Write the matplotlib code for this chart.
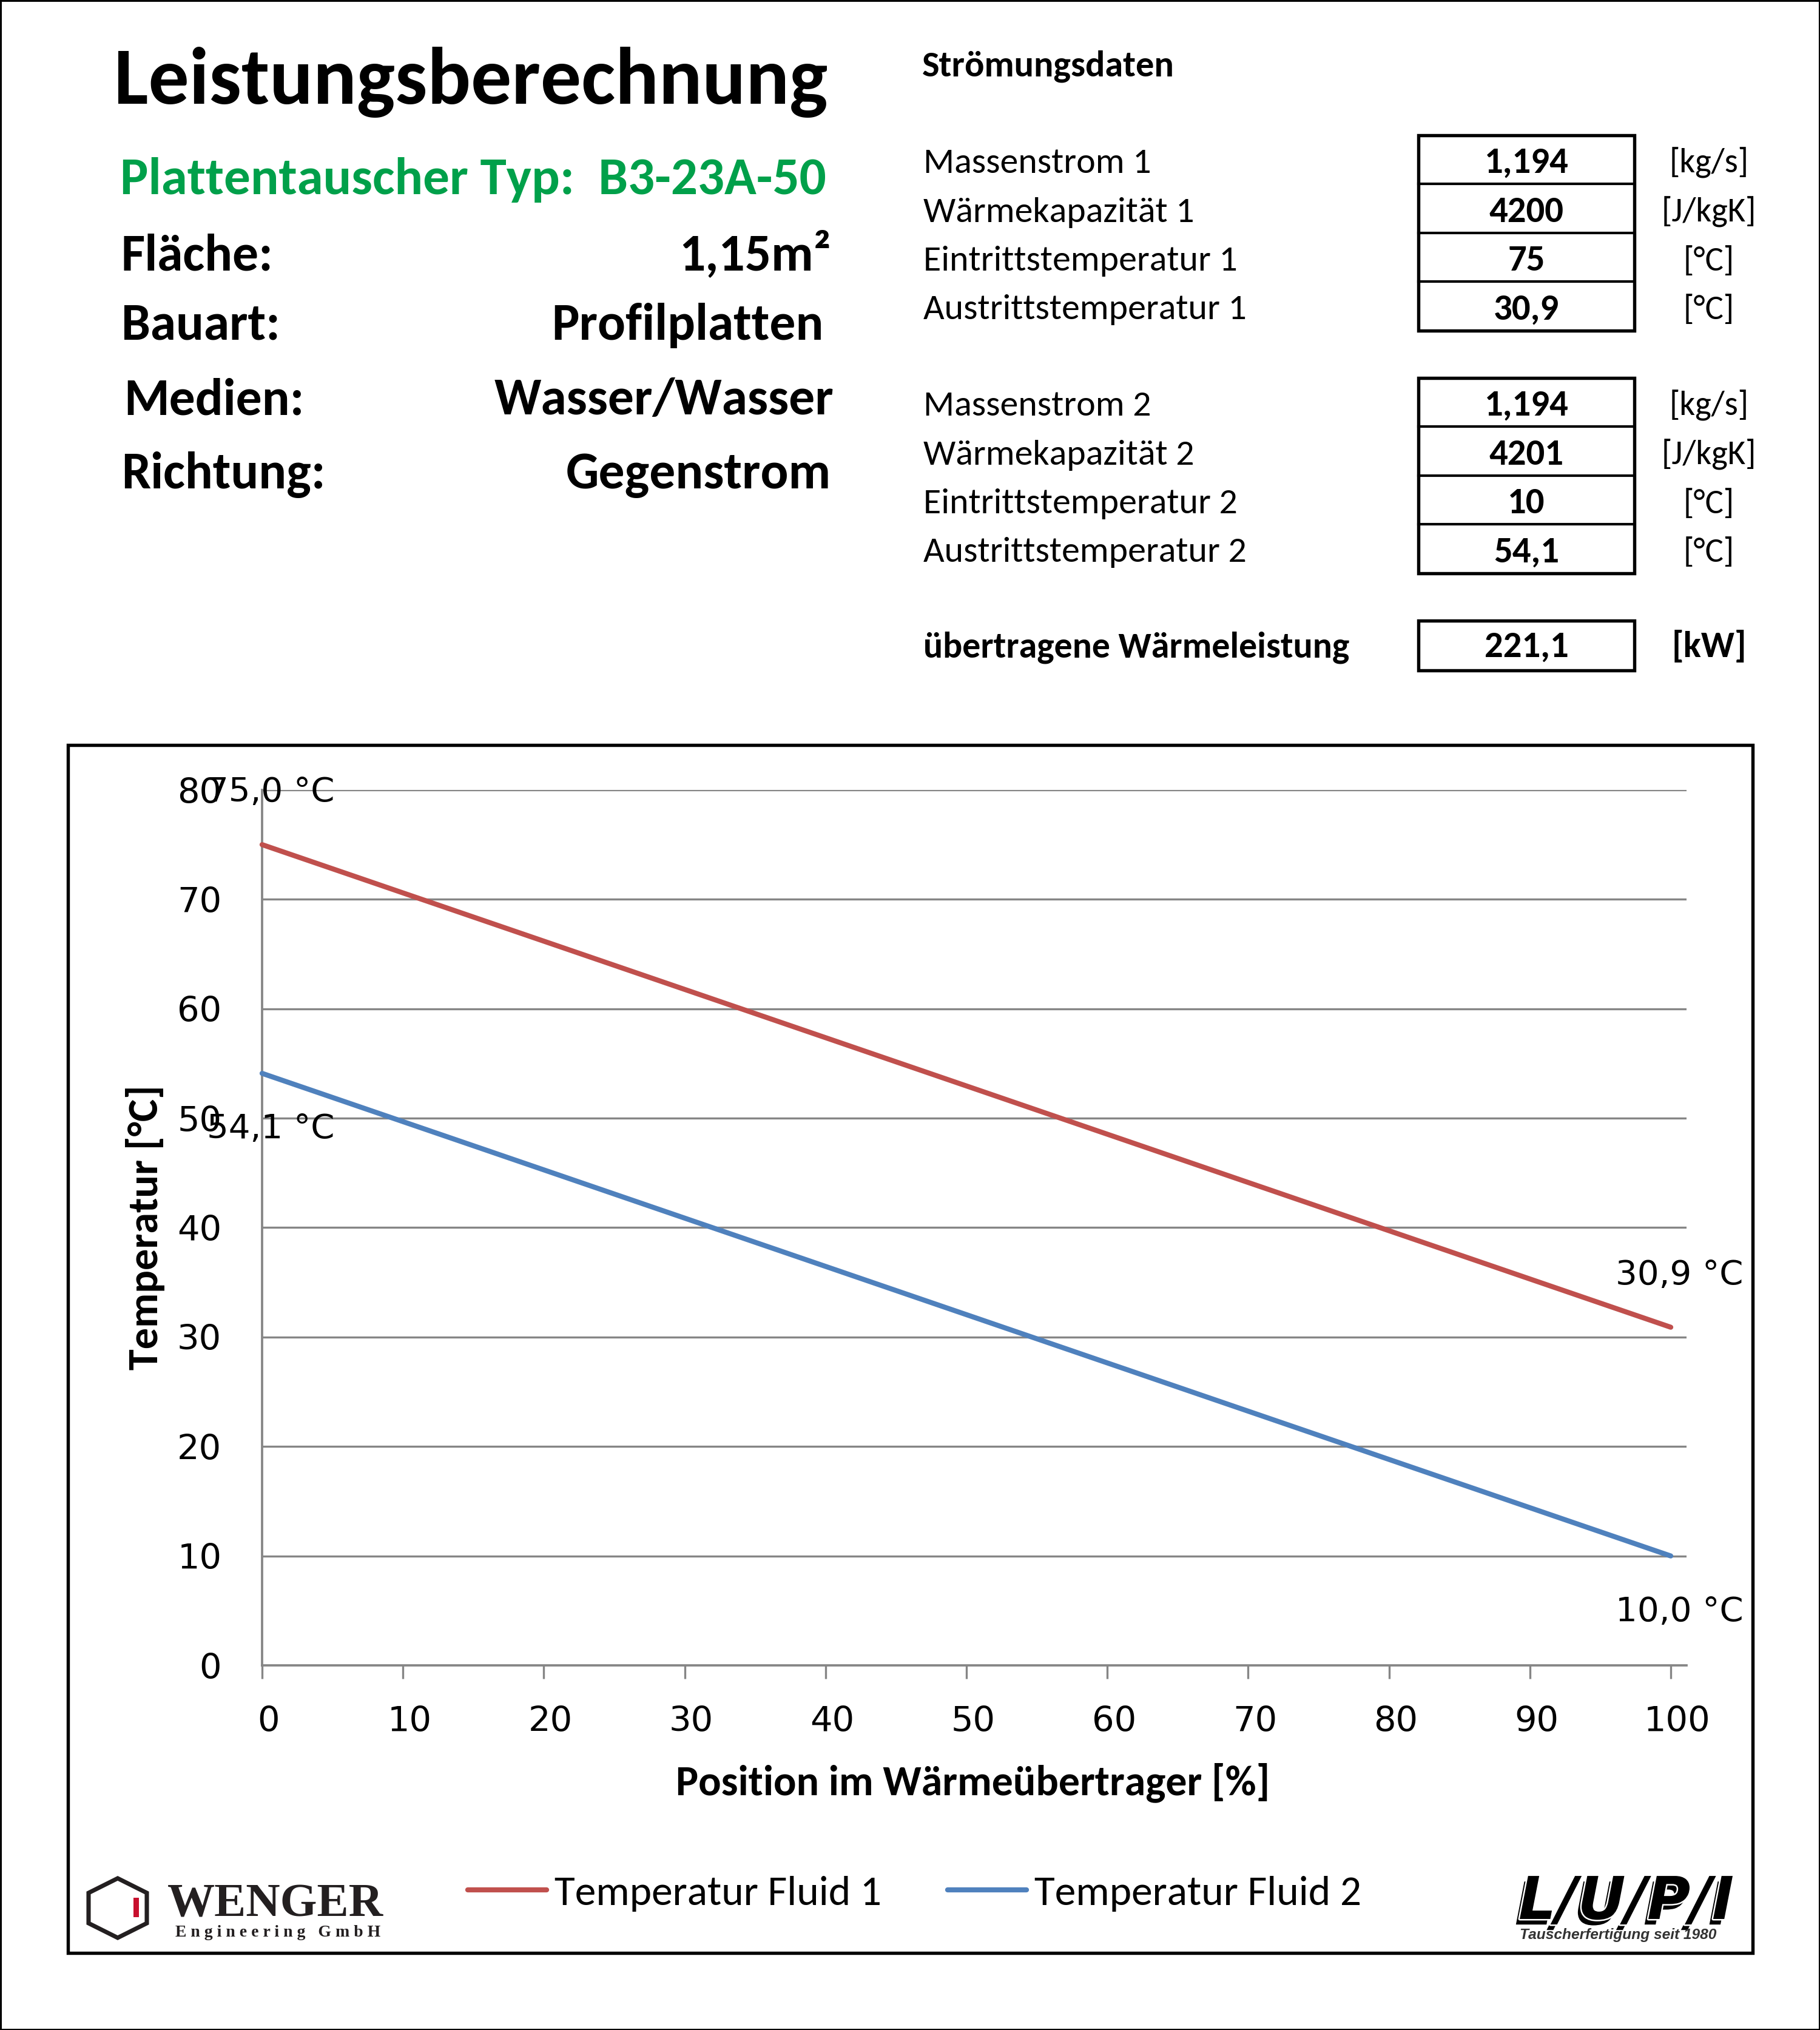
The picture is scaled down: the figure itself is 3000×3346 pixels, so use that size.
import matplotlib
matplotlib.use('Agg')
import matplotlib.pyplot as plt
from matplotlib.patches import Rectangle, Polygon
import matplotlib.patheffects as pe
from matplotlib import font_manager
from matplotlib.transforms import ScaledTranslation

# ---------------- data ----------------
position = [0, 100]
temp_fluid1 = [75.0, 30.9]
temp_fluid2 = [54.1, 10.0]
series_names = ['Temperatur Fluid 1', 'Temperatur Fluid 2']
x_ticks = [0, 10, 20, 30, 40, 50, 60, 70, 80, 90, 100]
y_ticks = [0, 10, 20, 30, 40, 50, 60, 70, 80]

title = 'Leistungsberechnung'
subtitle = 'Plattentauscher Typ:  B3-23A-50'
info_labels = ['Fläche:', 'Bauart:', 'Medien:', 'Richtung:']
info_values = ['1,15m²', 'Profilplatten', 'Wasser/Wasser', 'Gegenstrom']

flow_header = 'Strömungsdaten'
flow1_labels = ['Massenstrom 1', 'Wärmekapazität 1', 'Eintrittstemperatur 1', 'Austrittstemperatur 1']
flow1_values = ['1,194', '4200', '75', '30,9']
flow2_labels = ['Massenstrom 2', 'Wärmekapazität 2', 'Eintrittstemperatur 2', 'Austrittstemperatur 2']
flow2_values = ['1,194', '4201', '10', '54,1']
flow_units = ['[kg/s]', '[J/kgK]', '[°C]', '[°C]']
power_label = 'übertragene Wärmeleistung'
power_value = '221,1'
power_unit = '[kW]'

x_label = 'Position im Wärmeübertrager [%]'
y_label = 'Temperatur [°C]'

# ---------------- setup ----------------
W, H = 3000, 3346
DPI = 300
fig = plt.figure(figsize=(W / DPI, H / DPI), dpi=DPI)
fig.patch.set_facecolor('white')
renderer = fig.canvas.get_renderer()

names = {f.name for f in font_manager.fontManager.ttflist}
SANS = 'Carlito' if 'Carlito' in names else ('Lato' if 'Lato' in names else 'Open Sans')
SERIF = 'Liberation Serif' if 'Liberation Serif' in names else 'DejaVu Serif'
ARIAL = 'Liberation Sans' if 'Liberation Sans' in names else 'DejaVu Sans'


def fx(x):
    return x / W


def fy(y):
    return 1 - y / H


def pt(px):
    return px * 72.0 / DPI


def fit_size(s, width_px, family, weight='normal', style='normal'):
    t = fig.text(0, 0, s, fontsize=100, family=family, weight=weight, style=style)
    bb = t.get_window_extent(renderer)
    t.remove()
    return 100.0 * width_px / bb.width


def txt(x, y, s, size, family=SANS, weight='normal', ha='left', va='baseline', color='black', **kw):
    return fig.text(fx(x), fy(y), s, fontsize=size, family=family, weight=weight,
                    ha=ha, va=va, color=color, **kw)


# outer border of the picture
fig.add_artist(Rectangle((0, 0), 1, 1, transform=fig.transFigure, fill=False,
                         ec='black', lw=1.2))

# ---------------- header left ----------------
fs_title = fit_size(title, 1176, SANS, 'bold')
txt(188, 171, title, fs_title, weight='bold')
fs_sub = fit_size(subtitle, 1165, SANS, 'bold')
txt(198, 320, subtitle, fs_sub, weight='bold', color='#00A04A')

fs_info = fit_size('Wasser/Wasser', 560, SANS, 'bold')
info_base = [445, 560, 683, 805]
info_left = [200, 200, 204, 200]
info_right = [1370, 1358, 1374, 1370]
for lab, val, b, l, r in zip(info_labels, info_values, info_base, info_left, info_right):
    txt(l, b, lab, fs_info, weight='bold')
    txt(r, b, val, fs_info, weight='bold', ha='right')

# ---------------- header right (table) ----------------
fs_head = fit_size(flow_header, 416, SANS, 'bold')
txt(1520, 126, flow_header, fs_head, weight='bold')

fs_lab = fit_size('Austrittstemperatur 1', 532, SANS)
fs_val = fit_size('1,194', 139, SANS, 'bold')
fs_unit = fit_size('[J/kgK]', 157, SANS)

BOX_L, BOX_R = 2338, 2694
ROW_H = 80.5
UNIT_X = 2817


def draw_box(top, nrows):
    bottom = top + ROW_H * nrows
    fig.add_artist(Rectangle((fx(BOX_L), fy(bottom)), (BOX_R - BOX_L) / W, (bottom - top) / H,
                             transform=fig.transFigure, fill=False, ec='black', lw=1.3))
    for i in range(1, nrows):
        yy = fy(top + ROW_H * i)
        fig.add_artist(plt.Line2D([fx(BOX_L), fx(BOX_R)], [yy, yy], transform=fig.transFigure,
                                  color='black', lw=1.0))


for top, labels, values in [(223, flow1_labels, flow1_values), (623, flow2_labels, flow2_values)]:
    draw_box(top, 4)
    for i, (lab, val, unit) in enumerate(zip(labels, values, flow_units)):
        base = top + 62 + ROW_H * i
        txt(1522, base, lab, fs_lab)
        txt((BOX_L + BOX_R) / 2, base, val, fs_val, weight='bold', ha='center')
        txt(UNIT_X, base, unit, fs_unit, ha='center')

fs_pow = fit_size(power_label, 703, SANS, 'bold')
txt(1522, 1083, power_label, fs_pow, weight='bold')
fig.add_artist(Rectangle((fx(BOX_L), fy(1105)), (BOX_R - BOX_L) / W, (1105 - 1023) / H,
                         transform=fig.transFigure, fill=False, ec='black', lw=1.3))
txt((BOX_L + BOX_R) / 2, 1083, power_value, fs_val, weight='bold', ha='center')
txt(UNIT_X, 1083, power_unit, fs_val, weight='bold', ha='center')

# ---------------- chart frame ----------------
fig.add_artist(Rectangle((fx(112), fy(3219)), (2889 - 112) / W, (3219 - 1228) / H,
                         transform=fig.transFigure, fill=False, ec='black', lw=1.3, zorder=5))

# ---------------- chart ----------------
AX_L, AX_R, AX_T, AX_B = 432, 2780, 1302, 2745
TICK100 = 2754
ax = fig.add_axes([fx(AX_L), fy(AX_B), (AX_R - AX_L) / W, (AX_B - AX_T) / H])
ax.set_xlim(0, 100 * (AX_R - AX_L) / (TICK100 - AX_L))
ax.set_ylim(0, 80)

red = '#C0504D'
blue = '#4F81BD'
l1, = ax.plot(position, temp_fluid1, color=red, lw=2.0, solid_capstyle='round', clip_on=False, zorder=3)
l2, = ax.plot(position, temp_fluid2, color=blue, lw=2.0, solid_capstyle='round', clip_on=False, zorder=3)

grey = '#868686'
for s in ['top', 'right']:
    ax.spines[s].set_visible(False)
for s in ['left', 'bottom']:
    ax.spines[s].set_color(grey)
    ax.spines[s].set_linewidth(0.9)
ax.set_xticks(x_ticks)
ax.set_yticks(y_ticks)
ax.yaxis.grid(True, color=grey, lw=0.8)
ax.set_axisbelow(True)
ax.tick_params(axis='y', length=0, pad=16, labelsize=13.8)
ax.tick_params(axis='x', length=pt(22), width=0.8, color=grey, direction='out', pad=10.5, labelsize=13.8)
for lab in ax.get_xticklabels() + ax.get_yticklabels():
    lab.set_family('DejaVu Sans')
for lab in ax.get_xticklabels():
    lab.set_transform(lab.get_transform() + ScaledTranslation(11 / DPI, 0, fig.dpi_scale_trans))


def fmt(v):
    return f'{v:.1f}'.replace('.', ',') + ' °C'


# data labels: fluid 1 above, fluid 2 below
for xs, ys, dy in [(position, temp_fluid1, 86), (position, temp_fluid2, -92)]:
    for xv, yv in zip(xs, ys):
        ax.annotate(fmt(yv), (xv, yv), xytext=(pt(14), pt(dy)), textcoords='offset points',
                    ha='center', va='center', fontsize=13.5, family='DejaVu Sans',
                    annotation_clip=False, zorder=4)

fs_ax = fit_size(x_label, 981, SANS, 'bold')
txt(1604, 2938, x_label, fs_ax, weight='bold', ha='center', va='center')
fs_ay = fit_size(y_label, 470, SANS, 'bold')
txt(239, 2023, y_label, fs_ay, weight='bold', ha='center', va='center', rotation=90)

# legend
fs_leg = fit_size(series_names[0], 539, SANS)
fs_leg_px = fs_leg * DPI / 72
fig.legend([l1, l2], series_names, loc='center left', bbox_to_anchor=(fx(771), fy(3121)),
           ncol=2, frameon=False, prop={'family': SANS, 'size': fs_leg},
           handlelength=130 / fs_leg_px, handletextpad=13 / fs_leg_px,
           columnspacing=109 / fs_leg_px, borderpad=0, borderaxespad=0)

# ---------------- WENGER logo ----------------
hexv = [(194, 3096), (242, 3120), (242, 3170), (194, 3194), (146, 3170), (146, 3120)]
fig.add_artist(Polygon([(fx(a), fy(b)) for a, b in hexv], closed=True, fill=False,
                       ec='#231f20', lw=1.7, transform=fig.transFigure, joinstyle='miter'))
fig.add_artist(Rectangle((fx(220), fy(3160)), 9 / W, 32 / H, transform=fig.transFigure,
                         fc='#C8102E', ec='none'))
fs_w = fit_size('WENGER', 356, SERIF, 'bold')
txt(276, 3158, 'WENGER', fs_w, family=SERIF, weight='bold', color='#231f20')
eng = 'E n g i n e e r i n g   G m b H'
fs_e = fit_size(eng, 337, SERIF, 'bold')
txt(289, 3192, eng, fs_e, family=SERIF, weight='bold', color='#231f20')

# ---------------- LUPI logo ----------------
lupi = 'L/U/P/I'
fs_l = fit_size(lupi, 355, 'DejaVu Sans', 'bold', 'italic')
t = txt(2503, 3163, lupi, fs_l, family='DejaVu Sans', weight='bold', style='italic')
t.set_path_effects([pe.SimplePatchShadow(offset=(-1.5, -2.2), shadow_rgbFace='black', alpha=1.0),
                    pe.Stroke(linewidth=1.2, foreground='white'), pe.Normal()])
tag = 'Tauscherfertigung seit 1980'
fs_t = fit_size(tag, 325, ARIAL, 'bold', 'italic')
txt(2505, 3196, tag, fs_t, family=ARIAL, weight='bold', style='italic', color='#333333')

fig.savefig('out.png', dpi=DPI, facecolor='white')
